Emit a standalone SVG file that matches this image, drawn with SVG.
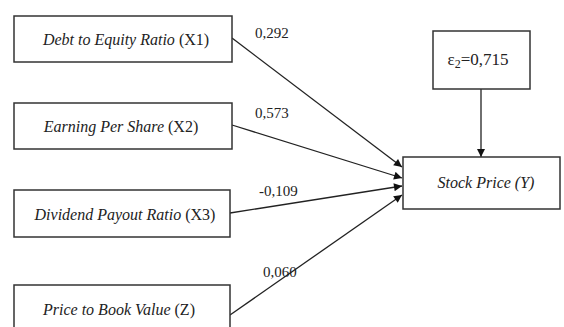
<svg xmlns="http://www.w3.org/2000/svg" width="564" height="327" viewBox="0 0 564 327">
<style>
.box{fill:#fff;stroke:#333;stroke-width:1.5}
text{font-family:'Liberation Serif','Times New Roman',Tinos,'DejaVu Serif',serif;fill:#222}
.lbl{font-size:16px;font-style:italic;text-anchor:middle}
.up{font-style:normal}
.num{font-size:15px}
.edge{stroke:#222;stroke-width:1.3;fill:none;marker-end:url(#ah)}
</style>
<defs>
<marker id="ah" viewBox="0 0 10 10" refX="10" refY="5" markerWidth="9" markerHeight="8" markerUnits="userSpaceOnUse" orient="auto">
<path d="M0,0 L10,5 L0,10 z" fill="#111"/>
</marker>
</defs>
<rect width="564" height="327" fill="#fff"/>
<g id="edges">
<line class="edge" x1="232" y1="38" x2="402" y2="167"/>
<line class="edge" x1="232" y1="125" x2="402" y2="178"/>
<line class="edge" x1="230" y1="213" x2="402" y2="186"/>
<line class="edge" x1="230" y1="315" x2="402" y2="195"/>
<line class="edge" x1="481" y1="89" x2="481" y2="157"/>
<text class="num" x="255" y="38">0,292</text>
<text class="num" x="255" y="118">0,573</text>
<text class="num" x="259" y="196">-0,109</text>
<text class="num" x="263" y="277">0,060</text>
</g>
<g id="x1">
<rect class="box" x="14" y="16" width="218" height="46"/>
<text class="lbl" x="126" y="45">Debt to Equity Ratio <tspan class="up">(X1)</tspan></text>
</g>
<g id="x2">
<rect class="box" x="14" y="103" width="218" height="46"/>
<text class="lbl" x="121" y="132">Earning Per Share <tspan class="up">(X2)</tspan></text>
</g>
<g id="x3">
<rect class="box" x="14" y="190" width="216" height="47"/>
<text class="lbl" x="125" y="220">Dividend Payout Ratio <tspan class="up">(X3)</tspan></text>
</g>
<g id="z">
<rect class="box" x="14" y="285" width="216" height="50"/>
<text class="lbl" x="119" y="315">Price to Book Value <tspan class="up">(Z)</tspan></text>
</g>
<g id="eps">
<rect class="box" x="433" y="31" width="97" height="58"/>
<text x="478" y="65" font-size="17" text-anchor="middle">ε<tspan font-size="12" dy="3">2</tspan><tspan dy="-3">=0,715</tspan></text>
</g>
<g id="y">
<rect class="box" x="403" y="157" width="157" height="52"/>
<text class="lbl" x="486" y="188">Stock Price (Y)</text>
</g>
</svg>
